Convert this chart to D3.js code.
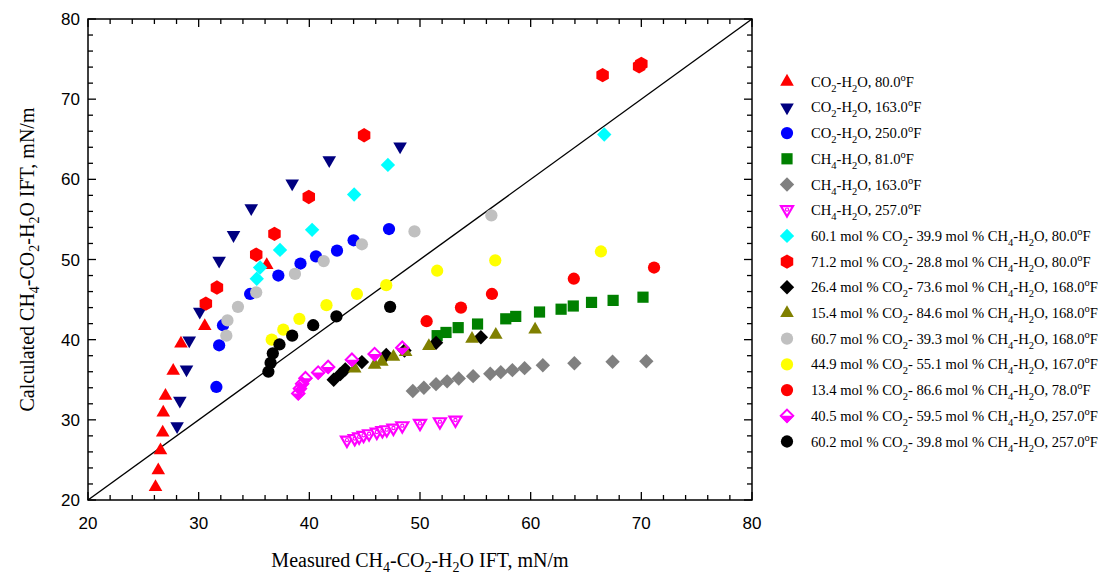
<!DOCTYPE html>
<html>
<head>
<meta charset="utf-8">
<script src="https://cdn.jsdelivr.net/npm/d3@7"></script>
<style>
  html, body { margin: 0; padding: 0; background: #fff; }
  svg { display: block; }
</style>
</head>
<body>
<svg id="chart" width="1104" height="575"></svg>
<script>
// ---- data: [measured, calculated] IFT pairs, mN/m ----
const co2_80 = [[26.1,21.6],[26.35,23.7],[26.55,26.2],[26.75,28.4],[26.8,30.9],[27.0,33.0],[27.7,36.1],[28.4,39.5],[30.55,41.7],[36.15,49.3]];
const co2_163 = [[28.05,29.2],[28.3,32.4],[28.9,36.3],[29.15,39.9],[30.1,43.5],[31.85,49.85],[33.15,53.05],[34.75,56.4],[38.45,59.5],[41.8,62.4],[48.2,64.1]];
const co2_250 = [[31.6,34.1],[31.85,39.3],[32.2,41.8],[34.65,45.7],[37.2,48.0],[39.2,49.5],[40.6,50.4],[42.5,51.1],[44.0,52.4],[47.2,53.8]];
const ch4_81 = [[51.55,40.5],[52.35,40.9],[53.45,41.5],[55.2,41.95],[57.75,42.6],[58.65,42.9],[60.8,43.45],[62.75,43.8],[63.85,44.2],[65.5,44.65],[67.45,44.9],[70.15,45.3]];
const ch4_163 = [[49.35,33.6],[50.35,34.0],[51.45,34.45],[52.45,34.8],[53.5,35.15],[54.8,35.45],[56.35,35.75],[57.3,35.95],[58.35,36.2],[59.45,36.45],[61.1,36.8],[63.95,37.05],[67.4,37.25],[70.45,37.3]];
const ch4_257 = [[43.4,27.4],[44.1,27.6],[44.5,27.8],[44.9,28.0],[45.4,28.2],[46.1,28.4],[46.6,28.6],[47.0,28.7],[47.6,28.9],[48.4,29.2],[50.0,29.5],[51.8,29.7],[53.2,29.9]];
const mix601_80 = [[35.25,47.6],[35.55,49.0],[37.35,51.2],[40.25,53.7],[44.05,58.1],[47.1,61.8],[66.65,65.6]];
const mix712_80 = [[30.65,44.5],[31.65,46.5],[35.2,50.6],[36.85,53.2],[39.95,57.8],[44.95,65.5],[66.5,73.0],[69.8,74.1],[70.0,74.4]];
const mix264_168 = [[42.2,35.0],[42.8,35.7],[43.25,36.3],[44.75,37.2],[46.95,38.1],[48.6,38.65],[51.45,39.6],[55.5,40.3]];
const mix154_168 = [[44.1,36.4],[45.9,36.85],[46.55,37.25],[47.6,37.85],[48.7,38.45],[50.8,39.2],[54.7,40.1],[56.85,40.6],[60.4,41.25]];
const mix607_168 = [[32.5,40.5],[32.6,42.4],[33.55,44.1],[35.2,45.9],[38.7,48.2],[41.3,49.8],[44.75,51.9],[49.5,53.5],[56.45,55.5]];
const mix449_167 = [[36.6,40.0],[37.65,41.25],[39.1,42.6],[41.55,44.3],[44.3,45.7],[46.95,46.8],[51.55,48.6],[56.8,49.9],[66.35,51.0]];
const mix134_78 = [[50.6,42.3],[53.7,44.0],[56.5,45.7],[63.9,47.6],[71.15,49.0]];
const mix405_257 = [[39.0,33.3],[39.15,33.9],[39.35,34.5],[39.65,35.2],[40.8,35.9],[41.7,36.6],[43.85,37.5],[45.9,38.2],[48.4,39.0]];
const mix602_257 = [[36.3,36.0],[36.5,37.1],[36.7,38.3],[37.3,39.4],[38.45,40.5],[40.35,41.8],[42.45,42.9],[47.3,44.1]];

// legend labels: _x = subscript character, ^o = degree superscript
const seriesLabels = [
  "CO_2-H_2O, 80.0^oF",
  "CO_2-H_2O, 163.0^oF",
  "CO_2-H_2O, 250.0^oF",
  "CH_4-H_2O, 81.0^oF",
  "CH_4-H_2O, 163.0^oF",
  "CH_4-H_2O, 257.0^oF",
  "60.1 mol % CO_2- 39.9 mol % CH_4-H_2O, 80.0^oF",
  "71.2 mol % CO_2- 28.8 mol % CH_4-H_2O, 80.0^oF",
  "26.4 mol % CO_2- 73.6 mol % CH_4-H_2O, 168.0^oF",
  "15.4 mol % CO_2- 84.6 mol % CH_4-H_2O, 168.0^oF",
  "60.7 mol % CO_2- 39.3 mol % CH_4-H_2O, 168.0^oF",
  "44.9 mol % CO_2- 55.1 mol % CH_4-H_2O, 167.0^oF",
  "13.4 mol % CO_2- 86.6 mol % CH_4-H_2O, 78.0^oF",
  "40.5 mol % CO_2- 59.5 mol % CH_4-H_2O, 257.0^oF",
  "60.2 mol % CO_2- 39.8 mol % CH_4-H_2O, 257.0^oF"
];
const seriesData = [co2_80, co2_163, co2_250, ch4_81, ch4_163, ch4_257, mix601_80, mix712_80,
  mix264_168, mix154_168, mix607_168, mix449_167, mix134_78, mix405_257, mix602_257];
const seriesShapes = ["triUp","triDown","circle","square","diamond","triOpen","diamond","hexagon",
  "diamond","triUp","circle","circle","circle","diamondHalf","circle"];
const seriesColors = ["#ff0000","#000080","#0000ff","#008000","#808080","#ff00ff","#00ffff","#ff0000",
  "#000000","#808000","#c0c0c0","#ffff00","#ff0000","#ff00ff","#000000"];

const xTicks = [20,30,40,50,60,70,80];
const yTicks = [20,30,40,50,60,70,80];

// ---- layout ----
const svg = d3.select("#chart");
const plot = { left: 88, right: 752, top: 19, bottom: 500 };
const x = d3.scaleLinear().domain([20,80]).range([plot.left, plot.right]);
const y = d3.scaleLinear().domain([20,80]).range([plot.bottom, plot.top]);

// rich text: subscripts and degree superscripts
function richText(sel, str, subSize) {
  let i = 0, shift = 0, buf = "";
  const flush = () => { if (buf) { sel.append("tspan").attr("dy", -shift).text(buf); shift = 0; buf = ""; } };
  while (i < str.length) {
    const c = str[i];
    if ((c === "_" || c === "^") && i + 1 < str.length) {
      flush();
      const d = c === "_" ? 5 : -6;
      sel.append("tspan").attr("dy", d - shift).attr("font-size", subSize).text(str[i+1]);
      shift = d;
      i += 2;
    } else { buf += c; i++; }
  }
  flush();
  if (shift) sel.append("tspan").attr("dy", -shift).text("");
}

// ---- marker shapes ----
function shapePath(kind) {
  switch (kind) {
    case "triUp": { const w = 6.8, h = 11.8; return `M0,${-h*2/3}L${w},${h/3}L${-w},${h/3}Z`; }
    case "triDown": case "triOpen": { const w = 6.8, h = 11.8; return `M0,${h*2/3}L${w},${-h/3}L${-w},${-h/3}Z`; }
    case "square": return "M-5.6,-5.6H5.6V5.6H-5.6Z";
    case "diamond": case "diamondHalf": return "M0,-7.2L7.2,0L0,7.2L-7.2,0Z";
    case "hexagon": {
      const r = 7.2;
      return d3.range(6).map(k => { const a = Math.PI/3*k - Math.PI/2; return (k ? "L" : "M") + (r*Math.cos(a)).toFixed(2) + "," + (r*Math.sin(a)).toFixed(2); }).join("") + "Z";
    }
    default: return d3.symbol(d3.symbolCircle, 118)();
  }
}

function drawMarker(g, kind, color) {
  if (kind === "triOpen") {
    g.append("path").attr("d", "M0,6.3L6.0,-4.0L-6.0,-4.0Z")
      .attr("fill", "#fff").attr("stroke", color).attr("stroke-width", 2.2).attr("stroke-linejoin", "miter");
    g.append("circle").attr("cx", 0).attr("cy", -0.6).attr("r", 1.6).attr("fill", "#fff").attr("stroke", color).attr("stroke-width", 1.2);
  } else if (kind === "diamondHalf") {
    g.append("path").attr("d", "M-7.2,0L0,7.2L7.2,0Z").attr("fill", color);
    g.append("path").attr("d", "M0,-6.2L6.2,0L0,6.2L-6.2,0Z")
      .attr("fill", "none").attr("stroke", color).attr("stroke-width", 2);
  } else {
    g.append("path").attr("d", shapePath(kind)).attr("fill", color);
  }
}

// ---- axes frame with inward ticks on all four sides ----
const frame = svg.append("g");
const minorTicks = d3.range(20, 80.001, 2);
const tickLen = v => (v % 10 === 0 ? 8 : 5);

frame.selectAll("line.xb").data(minorTicks).join("line")
  .attr("x1", d => x(d)).attr("x2", d => x(d))
  .attr("y1", plot.bottom).attr("y2", d => plot.bottom - tickLen(d));
frame.selectAll("line.xt").data(minorTicks).join("line")
  .attr("x1", d => x(d)).attr("x2", d => x(d))
  .attr("y1", plot.top).attr("y2", d => plot.top + tickLen(d));
frame.selectAll("line.yl").data(minorTicks).join("line")
  .attr("y1", d => y(d)).attr("y2", d => y(d))
  .attr("x1", plot.left).attr("x2", d => plot.left + tickLen(d));
frame.selectAll("line.yr").data(minorTicks).join("line")
  .attr("y1", d => y(d)).attr("y2", d => y(d))
  .attr("x1", plot.right).attr("x2", d => plot.right - tickLen(d));
frame.selectAll("line").attr("stroke", "#000").attr("stroke-width", 1.3);

frame.append("rect")
  .attr("x", plot.left).attr("y", plot.top)
  .attr("width", plot.right - plot.left).attr("height", plot.bottom - plot.top)
  .attr("fill", "none").attr("stroke", "#000").attr("stroke-width", 1.5);

// tick labels
const tickFont = "'Liberation Sans', Arial, sans-serif";
svg.append("g").selectAll("text").data(xTicks).join("text")
  .attr("x", d => x(d)).attr("y", plot.bottom + 29)
  .attr("text-anchor", "middle").attr("font-family", tickFont).attr("font-size", 17)
  .text(d => d);
svg.append("g").selectAll("text").data(yTicks).join("text")
  .attr("x", plot.left - 8).attr("y", d => y(d) + 6)
  .attr("text-anchor", "end").attr("font-family", tickFont).attr("font-size", 17)
  .text(d => d);

// axis titles
const serif = "'Liberation Serif', 'Times New Roman', serif";
const xt = svg.append("text")
  .attr("x", (plot.left + plot.right) / 2).attr("y", 567)
  .attr("text-anchor", "middle").attr("font-family", serif).attr("font-size", 20);
richText(xt, "Measured CH_4-CO_2-H_2O IFT, mN/m", 14);
const yt = svg.append("text")
  .attr("transform", `translate(34,${(plot.top + plot.bottom) / 2}) rotate(-90)`)
  .attr("text-anchor", "middle").attr("font-family", serif).attr("font-size", 20);
richText(yt, "Calculated CH_4-CO_2-H_2O IFT, mN/m", 14);

// ---- parity line y = x ----
svg.append("line")
  .attr("x1", x(20)).attr("y1", y(20)).attr("x2", x(80)).attr("y2", y(80))
  .attr("stroke", "#000").attr("stroke-width", 1.4);

// ---- data points ----
const pts = svg.append("g");
seriesData.forEach((data, i) => {
  data.forEach(([mx, my]) => {
    const g = pts.append("g").attr("transform", `translate(${x(mx)},${y(my)})`);
    drawMarker(g, seriesShapes[i], seriesColors[i]);
  });
});

// ---- legend ----
const legend = svg.append("g");
seriesLabels.forEach((label, i) => {
  const ly = 81.7 + i * 25.7;
  const g = legend.append("g").attr("transform", `translate(787,${ly})`);
  drawMarker(g, seriesShapes[i], seriesColors[i]);
  const t = legend.append("text")
    .attr("x", 811).attr("y", ly + 5)
    .attr("font-family", serif).attr("font-size", 14.6);
  richText(t, label, 10.5);
});
</script>
</body>
</html>
